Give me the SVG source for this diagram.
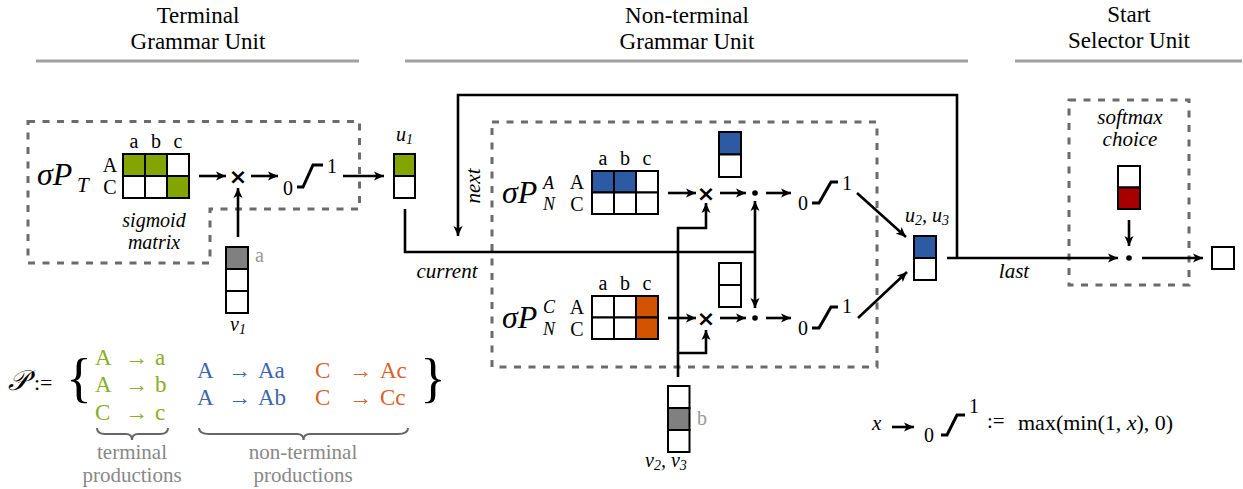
<svg xmlns="http://www.w3.org/2000/svg" width="1243" height="489" viewBox="0 0 1243 489">
<style>
text{font-family:Liberation Serif,serif;fill:#000}
.h{font-size:23px;text-anchor:middle}
.it{font-style:italic}
.lbl{font-size:20px;text-anchor:middle}
.il{font-size:21px;font-style:italic;text-anchor:middle}
.hl{stroke:#a0a0a0;stroke-width:3}
.dash{fill:none;stroke:#6b6b6b;stroke-width:3;stroke-dasharray:7 7.5}
.c{fill:#fff;stroke:#000;stroke-width:2}
.g{fill:#84a500}
.b{fill:#2c5ba3}
.o{fill:#d35400}
.r{fill:#a80000}
.gr{fill:#808080}
.ln{fill:none;stroke:#000;stroke-width:2.6}
.ar{marker-end:url(#ah)}
.ramp{fill:none;stroke:#000;stroke-width:3}
.x{font-family:DejaVu Sans,sans-serif;font-weight:bold;font-size:22px;text-anchor:middle}
.tg{fill:#8aaf1e;font-size:23px}
.tb{fill:#3d66ad;font-size:23px}
.to{fill:#d9622b;font-size:23px}
.gy{fill:#888;font-size:21px;text-anchor:middle}
.brace{fill:none;stroke:#666;stroke-width:2}
.ss{font-size:18px;font-style:italic}
</style>
<defs>
<marker id="ah" markerWidth="12" markerHeight="10" refX="10" refY="5" orient="auto" markerUnits="userSpaceOnUse">
<path d="M0,0.5 L10,5 L0,9.5 L2.5,5 z" fill="#000"/>
</marker>
</defs>

<g id="headers">
<text class="h" x="198" y="23">Terminal</text>
<text class="h" x="198" y="49">Grammar Unit</text>
<line class="hl" x1="36" y1="61" x2="359" y2="61"/>
<text class="h" x="687" y="23">Non-terminal</text>
<text class="h" x="687" y="49">Grammar Unit</text>
<line class="hl" x1="405" y1="61" x2="968" y2="61"/>
<text class="h" x="1129" y="22">Start</text>
<text class="h" x="1129" y="48">Selector Unit</text>
<line class="hl" x1="1015" y1="61" x2="1242" y2="61"/>
</g>

<g id="units">
<path class="dash" d="M28,121.5 H359.5 V209 H210 V263 H28 Z"/>
<rect class="dash" x="492" y="122" width="385" height="245"/>
<rect class="dash" x="1069" y="100" width="120" height="185"/>
</g>

<g id="connectors">
<line class="ln ar" x1="199" y1="176" x2="226" y2="176"/>
<line class="ln ar" x1="251" y1="176" x2="278" y2="176"/>
<line class="ln ar" x1="343" y1="176" x2="384" y2="176"/>
<line class="ln ar" x1="238" y1="237" x2="238" y2="188"/>
<path class="ln" d="M405,209 V252 H755"/>
<line class="ln ar" x1="755" y1="252" x2="755" y2="201"/>
<line class="ln ar" x1="755" y1="252" x2="755" y2="308"/>
<path class="ln ar" d="M957,258 V95 H458 V236"/>
<line class="ln ar" x1="947" y1="258" x2="1118" y2="258"/>
<path class="ln ar" d="M678,377 V228 H706 V203"/>
<path class="ln ar" d="M678,353 H706 V330"/>
<line class="ln ar" x1="668" y1="193" x2="696" y2="193"/>
<line class="ln ar" x1="720" y1="193" x2="746" y2="193"/>
<line class="ln ar" x1="766" y1="193" x2="791" y2="193"/>
<line class="ln ar" x1="668" y1="318" x2="696" y2="318"/>
<line class="ln ar" x1="720" y1="318" x2="746" y2="318"/>
<line class="ln ar" x1="766" y1="318" x2="791" y2="318"/>
<line class="ln ar" x1="857" y1="193" x2="906" y2="237"/>
<line class="ln ar" x1="858" y1="318" x2="907" y2="272"/>
<line class="ln ar" x1="1129" y1="220" x2="1129" y2="246"/>
<line class="ln ar" x1="1142" y1="258" x2="1203" y2="258"/>
<line class="ln ar" x1="892" y1="427" x2="914" y2="427"/>
</g>

<g id="matrixT">
<text x="37" y="185" class="it" font-size="32">σP</text>
<text x="77" y="192" class="it" font-size="21">T</text>
<text class="lbl" x="134" y="148">a</text><text class="lbl" x="156" y="148">b</text><text class="lbl" x="178" y="148">c</text>
<text class="lbl" x="110" y="172">A</text><text class="lbl" x="110" y="194">C</text>
<rect class="c g" x="123" y="154" width="22" height="22"/>
<rect class="c g" x="145" y="154" width="22" height="22"/>
<rect class="c" x="167" y="154" width="22" height="22"/>
<rect class="c" x="123" y="176" width="22" height="22"/>
<rect class="c" x="145" y="176" width="22" height="22"/>
<rect class="c g" x="167" y="176" width="22" height="22"/>
<text class="il" x="154" y="227" style="font-size:20px">sigmoid</text>
<text class="il" x="154" y="249" style="font-size:20px">matrix</text>
</g>

<g id="mulT"><text class="x" x="238" y="184">×</text></g>
<g id="clampT">
<text class="lbl" x="288" y="195">0</text>
<path class="ramp" d="M297,187 H303 L313,165 H323"/>
<text class="lbl" x="332" y="173">1</text>
</g>

<g id="u1">
<text x="396" y="141" class="it" font-size="20">u<tspan font-size="14" dy="3">1</tspan></text>
<rect class="c g" x="394" y="154" width="21" height="22"/>
<rect class="c" x="394" y="176" width="21" height="22"/>
</g>

<g id="v1">
<rect class="c gr" x="226" y="247" width="22" height="22"/>
<rect class="c" x="226" y="269" width="22" height="22"/>
<rect class="c" x="226" y="291" width="22" height="22"/>
<text x="255" y="262" font-size="20" style="fill:#999">a</text>
<text x="230" y="331" class="it" font-size="20">v<tspan font-size="14" dy="3">1</tspan></text>
</g>

<g id="matrixA">
<text x="502" y="203" class="it" font-size="32">σP</text>
<text x="543" y="189" class="ss">A</text>
<text x="543" y="210" class="ss">N</text>
<text class="lbl" x="603" y="165">a</text><text class="lbl" x="625" y="165">b</text><text class="lbl" x="647" y="165">c</text>
<text class="lbl" x="577" y="189">A</text><text class="lbl" x="577" y="211">C</text>
<rect class="c b" x="592" y="171" width="22" height="21.5"/>
<rect class="c b" x="614" y="171" width="22" height="21.5"/>
<rect class="c" x="636" y="171" width="22" height="21.5"/>
<rect class="c" x="592" y="192.5" width="22" height="21.5"/>
<rect class="c" x="614" y="192.5" width="22" height="21.5"/>
<rect class="c" x="636" y="192.5" width="22" height="21.5"/>
</g>

<g id="matrixC">
<text x="502" y="328" class="it" font-size="32">σP</text>
<text x="543" y="313" class="ss">C</text>
<text x="543" y="335" class="ss">N</text>
<text class="lbl" x="603" y="290">a</text><text class="lbl" x="625" y="290">b</text><text class="lbl" x="647" y="290">c</text>
<text class="lbl" x="577" y="314">A</text><text class="lbl" x="577" y="336">C</text>
<rect class="c" x="592" y="296" width="22" height="21.5"/>
<rect class="c" x="614" y="296" width="22" height="21.5"/>
<rect class="c o" x="636" y="296" width="22" height="21.5"/>
<rect class="c" x="592" y="317.5" width="22" height="21.5"/>
<rect class="c" x="614" y="317.5" width="22" height="21.5"/>
<rect class="c o" x="636" y="317.5" width="22" height="21.5"/>
</g>

<g id="vecTop">
<rect class="c b" x="719" y="132" width="22" height="22.5"/>
<rect class="c" x="719" y="154.5" width="22" height="22.5"/>
</g>
<g id="vecBottom">
<rect class="c" x="719" y="263" width="22" height="22"/>
<rect class="c" x="719" y="285" width="22" height="22"/>
</g>

<g id="mulA"><text class="x" x="706" y="201">×</text></g>
<g id="dotA"><circle cx="755" cy="193" r="2.8"/></g>
<g id="clampA">
<text class="lbl" x="803" y="210">0</text>
<path class="ramp" d="M812,203 H819 L831,182 H838"/>
<text class="lbl" x="847" y="190">1</text>
</g>
<g id="mulC"><text class="x" x="706" y="326">×</text></g>
<g id="dotC"><circle cx="755" cy="318" r="2.8"/></g>
<g id="clampC">
<text class="lbl" x="803" y="335">0</text>
<path class="ramp" d="M812,328 H819 L831,307 H838"/>
<text class="lbl" x="847" y="313">1</text>
</g>

<g id="u23">
<text x="905" y="222" class="it" font-size="20">u<tspan font-size="14" dy="3">2</tspan><tspan dy="-3">, u</tspan><tspan font-size="14" dy="3">3</tspan></text>
<rect class="c b" x="914" y="236" width="22" height="22"/>
<rect class="c" x="914" y="258" width="22" height="22"/>
</g>

<g id="v23">
<rect class="c" x="668" y="386" width="21.5" height="22"/>
<rect class="c gr" x="668" y="408" width="21.5" height="22"/>
<rect class="c" x="668" y="430" width="21.5" height="22"/>
<text x="697" y="425" font-size="20" style="fill:#999">b</text>
<text x="645" y="467" class="it" font-size="20">v<tspan font-size="14" dy="3">2</tspan><tspan dy="-3">, v</tspan><tspan font-size="14" dy="3">3</tspan></text>
</g>

<g id="edgeLabels">
<text class="il" x="447" y="278">current</text>
<text class="il" transform="translate(480,186) rotate(-90)" x="0" y="0">next</text>
<text class="il" x="1014" y="278">last</text>
</g>

<g id="softmax">
<text class="il" x="1130" y="124">softmax</text>
<text class="il" x="1130" y="146">choice</text>
<rect class="c" x="1118" y="166" width="22" height="21.5"/>
<rect class="c r" x="1118" y="187.5" width="22" height="21.5"/>
<circle cx="1129" cy="258" r="2.8"/>
</g>

<g id="output">
<rect class="c" x="1212" y="247" width="22" height="22"/>
</g>

<g id="legendClamp">
<text x="872" y="430" class="it" font-size="21">x</text>
<text class="lbl" x="929" y="442">0</text>
<path class="ramp" d="M941,435 H947 L957,415 H965"/>
<text class="lbl" x="974" y="413">1</text>
<text x="987" y="428" font-size="21">:=</text>
<text x="1018" y="430" font-size="22">max(min(1, <tspan font-style="italic">x</tspan>), 0)</text>
</g>

<g id="productions">
<text x="8" y="390" class="it" font-size="28">𝒫'<tspan font-style="normal" font-size="22">:=</tspan></text>
<text x="66" y="396" font-size="54">{</text>
<text x="420" y="396" font-size="54">}</text>
<text class="tg" y="365"><tspan x="95">A</tspan><tspan x="125">→</tspan><tspan x="155">a</tspan></text>
<text class="tg" y="392"><tspan x="95">A</tspan><tspan x="125">→</tspan><tspan x="155">b</tspan></text>
<text class="tg" y="420"><tspan x="95">C</tspan><tspan x="125">→</tspan><tspan x="155">c</tspan></text>
<text class="tb" y="378"><tspan x="197">A</tspan><tspan x="228">→</tspan><tspan x="258">Aa</tspan></text>
<text class="tb" y="405"><tspan x="197">A</tspan><tspan x="228">→</tspan><tspan x="258">Ab</tspan></text>
<text class="to" y="378"><tspan x="315">C</tspan><tspan x="349">→</tspan><tspan x="380">Ac</tspan></text>
<text class="to" y="405"><tspan x="315">C</tspan><tspan x="349">→</tspan><tspan x="380">Cc</tspan></text>
<path class="brace" d="M97,428 Q97,434 105,434 H126 Q132,434 132,440 Q132,434 138,434 H160 Q168,434 168,428"/>
<path class="brace" d="M199,428 Q199,434 209,434 H297 Q303.5,434 303.5,440 Q303.5,434 310,434 H398 Q408,434 408,428"/>
<text class="gy" x="132" y="459">terminal</text>
<text class="gy" x="132" y="482">productions</text>
<text class="gy" x="303" y="459">non-terminal</text>
<text class="gy" x="303" y="482">productions</text>
</g>
</svg>
